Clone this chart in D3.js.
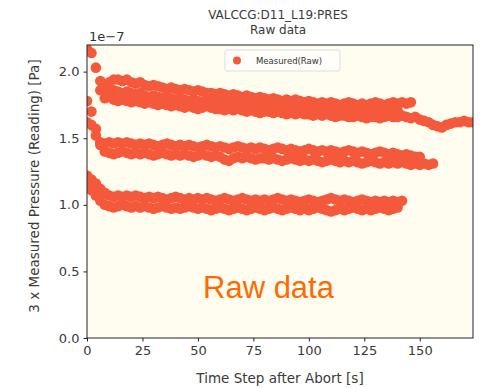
<!DOCTYPE html>
<html>
<head>
<meta charset="utf-8">
<script src="https://cdn.jsdelivr.net/npm/d3@7"></script>
<style>
  body { margin: 0; background: #fff; }
  text { font-family: "DejaVu Sans", sans-serif; }
</style>
</head>
<body>
<div id="chart"></div>
<script>
// time steps after abort [s]
const timeSteps = [0,2,4,6,8,10,12,14,16,18,20,22,24,26,28,30,32,34,36,38,40,42,44,46,48,50,52,54,56,58,
  60,62,64,66,68,70,72,74,76,78,80,82,84,86,88,90,92,94,96,98,100,102,104,106,108,110,112,114,116,118,
  120,122,124,126,128,130,132,134,136,138,140,142,144,146,148,150,152,154,156,158,160,162,164,166,168,170,172,174];

// readings (x 1e-7 Pa), one list per abort, null = no reading yet
const upperA = [2.17,2.14,2.03,1.93,1.86,1.81,1.79,1.78,1.79,1.78,
  1.77,1.78,1.77,1.76,1.77,1.76,1.75,1.76,1.75,1.74,
  1.75,1.74,1.73,1.74,1.73,1.72,1.73,1.74,1.73,1.72,
  1.72,1.71,1.72,1.71,1.72,1.71,1.70,1.71,1.70,1.69,
  1.70,1.70,1.69,1.70,1.69,1.68,1.69,1.68,1.69,1.68,
  1.68,1.67,1.68,1.67,1.68,1.67,1.66,1.67,1.67,1.66,
  1.66,1.67,1.66,1.65,1.66,1.66,1.65,1.66,1.67,1.66,
  1.66,1.67,1.66,1.65,1.66,1.64,1.63,1.62,1.60,1.59,
  1.58,1.60,1.61,1.62,1.62,1.63,1.62,1.62];

const upperB = [null,null,null,1.86,1.89,1.92,1.94,1.94,1.93,1.94,
  1.92,1.91,1.92,1.90,1.89,1.90,1.89,1.88,1.87,1.88,
  1.87,1.86,1.87,1.86,1.85,1.86,1.85,1.84,1.84,1.83,
  1.84,1.83,1.82,1.83,1.82,1.81,1.82,1.81,1.80,1.81,
  1.80,1.79,1.80,1.79,1.78,1.79,1.78,1.79,1.78,1.77,
  1.78,1.77,1.76,1.77,1.76,1.77,1.76,1.75,1.76,1.77,
  1.76,1.75,1.76,1.75,1.76,1.77,1.76,1.75,1.76,1.77,
  1.76,1.77,1.76,1.77];

const upperC = [null,null,null,null,1.80,1.84,1.86,1.85,1.84,1.85,
  1.84,1.83,1.84,1.82,1.81,1.82,1.81,1.80,1.81,1.80,
  1.79,1.80,1.79,1.78,1.79,1.78,1.77,1.78,1.77,1.78,
  1.77,1.76,1.77,1.76,1.75,1.76,1.75,1.76,1.75,1.74,
  1.75,1.74,1.73,1.74,1.73,1.74,1.73,1.72,1.73,1.72,
  1.73,1.72,1.71,1.72,1.71,1.72,1.71,1.70,1.71,1.72,
  1.71,1.70,1.71,1.70,1.71,1.72,1.71,1.72,1.71,1.70,
  1.71];

const middleA = [1.62,1.60,1.52,1.47,1.46,1.47,1.46,1.47,1.46,1.47,
  1.46,1.45,1.46,1.45,1.46,1.45,1.44,1.45,1.46,1.45,
  1.44,1.45,1.44,1.45,1.44,1.43,1.44,1.45,1.44,1.43,
  1.44,1.43,1.42,1.43,1.44,1.43,1.42,1.43,1.42,1.43,
  1.42,1.41,1.42,1.43,1.42,1.41,1.42,1.41,1.40,1.41,
  1.42,1.41,1.40,1.41,1.40,1.41,1.40,1.39,1.40,1.41,
  1.40,1.39,1.40,1.39,1.38,1.39,1.40,1.39,1.38,1.39,
  1.38,1.37,1.38,1.37,1.36,1.36];

const middleB = [1.78,1.70,1.57,1.45,1.40,1.39,1.38,1.39,1.40,1.39,
  1.38,1.39,1.38,1.39,1.38,1.37,1.38,1.39,1.38,1.37,
  1.38,1.37,1.38,1.37,1.36,1.37,1.38,1.37,1.36,1.37,
  1.36,1.34,1.33,1.35,1.36,1.35,1.36,1.35,1.34,1.35,
  1.35,1.34,1.35,1.34,1.33,1.34,1.35,1.34,1.33,1.34,
  1.33,1.34,1.33,1.32,1.33,1.34,1.33,1.32,1.33,1.32,
  1.33,1.32,1.31,1.32,1.33,1.32,1.31,1.32,1.31,1.32,
  1.31,1.32,1.31,1.30,1.31,1.30,1.31,1.30,1.31];

const lowerA = [1.22,1.19,1.16,1.12,1.09,1.07,1.06,1.07,1.06,1.07,
  1.06,1.07,1.06,1.05,1.06,1.05,1.06,1.05,1.04,1.05,
  1.06,1.05,1.04,1.05,1.04,1.05,1.04,1.05,1.04,1.03,
  1.04,1.05,1.04,1.03,1.04,1.05,1.04,1.03,1.04,1.03,
  1.04,1.03,1.04,1.05,1.04,1.03,1.04,1.03,1.02,1.03,
  1.04,1.03,1.02,1.03,1.04,1.05,1.04,1.03,1.04,1.03,
  1.02,1.03,1.04,1.03,1.02,1.03,1.02,1.03,1.02,1.03,
  1.02,1.03];

const lowerB = [1.14,1.11,1.07,1.03,1.00,0.99,0.98,0.99,1.00,0.99,
  0.98,0.99,0.98,0.99,0.98,0.97,0.98,0.99,0.98,0.97,
  0.98,0.97,0.98,0.99,0.98,0.97,0.98,0.97,0.96,0.97,
  0.98,0.97,0.96,0.97,0.98,0.97,0.96,0.97,0.98,0.97,
  0.96,0.97,0.98,0.97,0.96,0.97,0.98,0.97,0.96,0.97,
  0.96,0.97,0.98,0.97,0.96,0.95,0.96,0.97,0.96,0.97,
  0.98,0.97,0.96,0.97,0.96,0.97,0.98,0.97,0.96,0.97,
  0.98];

const runs = [upperA, upperB, upperC, middleA, middleB, lowerA, lowerB];

const xTicks = [0, 25, 50, 75, 100, 125, 150];
const yTicks = [0.0, 0.5, 1.0, 1.5, 2.0];

const titleLines = ['VALCCG:D11_L19:PRES', 'Raw data'];
const legendLabel = 'Measured(Raw)';
const overlayLabel = 'Raw data';

// flatten runs into points
let dataset = [];
runs.forEach(run => {
    run.forEach((v, i) => {
        if (v !== null) dataset.push({ t: timeSteps[i], p: v });
    });
});

let dimensions = {
    width: 494,
    height: 388,
    margin: { top: 45, right: 21, bottom: 50, left: 87 }
};
dimensions.boundW = dimensions.width - dimensions.margin.left - dimensions.margin.right;
dimensions.boundH = dimensions.height - dimensions.margin.top - dimensions.margin.bottom;

const markerColor = '#f4593b';

let svg = d3.select('#chart').append('svg')
    .attr('width', dimensions.width)
    .attr('height', dimensions.height);

svg.append('defs').append('clipPath')
    .attr('id', 'plot-clip')
    .append('rect')
    .attr('width', dimensions.boundW)
    .attr('height', dimensions.boundH);

let bounds = svg.append('g')
    .attr('transform', `translate(${dimensions.margin.left},${dimensions.margin.top})`);

bounds.append('rect')
    .attr('width', dimensions.boundW)
    .attr('height', dimensions.boundH)
    .attr('fill', '#fffcf0');

let xScale = d3.scaleLinear()
    .domain([0, 174])
    .range([0, dimensions.boundW]);

let yScale = d3.scaleLinear()
    .domain([0, 2.2])
    .range([dimensions.boundH, 0]);

// scatter
bounds.append('g')
    .attr('clip-path', 'url(#plot-clip)')
    .selectAll('circle')
    .data(dataset)
    .join('circle')
    .attr('cx', d => xScale(d.t))
    .attr('cy', d => yScale(d.p))
    .attr('r', 5.3)
    .attr('fill', markerColor);

// axes
let xAxisGenerator = d3.axisBottom(xScale)
    .tickValues(xTicks)
    .tickSize(3.5)
    .tickPadding(4)
    .tickFormat(d3.format('d'));

let xAxis = bounds.append('g')
    .attr('transform', `translate(0,${dimensions.boundH})`)
    .call(xAxisGenerator);

let yAxisGenerator = d3.axisLeft(yScale)
    .tickValues(yTicks)
    .tickSize(3.5)
    .tickPadding(4)
    .tickFormat(d3.format('.1f'));

let yAxis = bounds.append('g')
    .call(yAxisGenerator);

[xAxis, yAxis].forEach(ax => {
    ax.select('.domain').remove();
    ax.selectAll('.tick line').attr('stroke', '#222');
    ax.selectAll('.tick text')
        .attr('fill', '#3a3a3a')
        .style('font-size', '13px')
        .style('font-family', '"DejaVu Sans", sans-serif');
});

// frame
bounds.append('rect')
    .attr('width', dimensions.boundW)
    .attr('height', dimensions.boundH)
    .attr('fill', 'none')
    .attr('stroke', '#222')
    .attr('stroke-width', 1);

// offset text
svg.append('text')
    .attr('x', dimensions.margin.left + 2)
    .attr('y', 41)
    .text('1e\u22127')
    .attr('fill', '#333')
    .style('font-size', '13px');

// title
titleLines.forEach((line, i) => {
    svg.append('text')
        .attr('x', 278)
        .attr('y', 19 + i * 15)
        .attr('text-anchor', 'middle')
        .text(line)
        .attr('fill', '#3a3a3a')
        .style('font-size', '12px');
});

// axis labels
svg.append('text')
    .attr('x', dimensions.margin.left + dimensions.boundW / 2)
    .attr('y', 383)
    .attr('text-anchor', 'middle')
    .text('Time Step after Abort [s]')
    .attr('fill', '#3a3a3a')
    .style('font-size', '13.5px');

svg.append('text')
    .attr('transform', `translate(39,186) rotate(-90)`)
    .attr('text-anchor', 'middle')
    .text('3 x Measured Pressure (Reading) [Pa]')
    .attr('fill', '#3a3a3a')
    .style('font-size', '13.5px');

// legend
let legend = svg.append('g');
legend.append('rect')
    .attr('x', 225)
    .attr('y', 50)
    .attr('width', 115)
    .attr('height', 21)
    .attr('rx', 2)
    .attr('fill', '#fffefa')
    .attr('stroke', '#ddd');
legend.append('circle')
    .attr('cx', 237)
    .attr('cy', 60.5)
    .attr('r', 4)
    .attr('fill', markerColor);
legend.append('text')
    .attr('x', 256)
    .attr('y', 64)
    .text(legendLabel)
    .attr('fill', '#333')
    .style('font-size', '8.5px');

// overlay annotation
svg.append('text')
    .attr('x', 203)
    .attr('y', 298)
    .text(overlayLabel)
    .attr('fill', '#ff6a00')
    .style('font-family', '"Liberation Sans", Arial, sans-serif')
    .style('font-size', '31px');
</script>
</body>
</html>
